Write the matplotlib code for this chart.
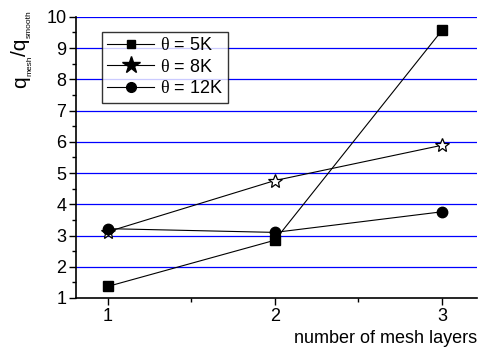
import matplotlib
matplotlib.use("Agg")
import matplotlib.pyplot as plt
from matplotlib.lines import Line2D
from matplotlib.ticker import MultipleLocator
from matplotlib.transforms import IdentityTransform

plt.rcParams['font.family'] = ['Liberation Sans', 'DejaVu Sans']
plt.rcParams['mathtext.fontset'] = 'custom'
plt.rcParams['mathtext.rm'] = 'Liberation Serif'
plt.rcParams['mathtext.sf'] = 'Liberation Sans'

layers = [1, 2, 3]
q_5K = [1.37, 2.85, 9.57]
q_8K = [3.12, 4.76, 5.89]
q_12K = [3.22, 3.10, 3.76]
labels = [r'$\mathrm{θ}$ = 5K', r'$\mathrm{θ}$ = 8K', r'$\mathrm{θ}$ = 12K']
ylabel_parts = [('q', False), ('mesh', True), ('/q', False), ('smooth', True)]

fig = plt.figure(figsize=(4.81, 3.51), dpi=100)
ax = fig.add_axes([0.158, 0.151, 0.834, 0.801])

for yv in range(2, 11):
    ax.axhline(yv, color='#0000ff', lw=0.9, zorder=0)

ax.plot(layers, q_5K, color='black', lw=0.8, marker='s', ms=6.5, mfc='black', mec='black', zorder=3)
ax.plot(layers, q_8K, color='black', lw=0.8, marker='*', ms=10, mfc='white', mec='black', mew=0.9, zorder=3)
ax.plot(layers, q_12K, color='black', lw=0.8, marker='o', ms=7.5, mfc='black', mec='black', zorder=4)

ax.set_xlim(0.81, 3.21)
ax.set_ylim(1, 10)
ax.xaxis.set_major_locator(MultipleLocator(1))
ax.xaxis.set_minor_locator(MultipleLocator(0.5))
ax.yaxis.set_major_locator(MultipleLocator(1))
ax.yaxis.set_minor_locator(MultipleLocator(0.5))
ax.tick_params(axis='both', which='major', direction='out', length=5, width=1, labelsize=13, pad=2)
ax.tick_params(axis='both', which='minor', direction='out', length=3, width=1)
ax.spines['top'].set_visible(False)
ax.spines['right'].set_visible(False)
ax.spines['left'].set_linewidth(1.2)
ax.spines['bottom'].set_linewidth(1.2)

ax.set_xlabel('number of mesh layers', fontsize=13)
ax.xaxis.set_label_coords(1.0, -0.115)
ax.xaxis.label.set_ha('right')

# y label built from pieces (large q, small subscripts), reading bottom-to-top
renderer = fig.canvas.get_renderer()
ypos = 351 - 88
xbase = 26
for txt, sub in ylabel_parts:
    t = fig.text(xbase + (5 if sub else 0), ypos, txt, rotation=90, rotation_mode='anchor',
                 ha='left', va='baseline', fontsize=6 if sub else 15,
                 transform=IdentityTransform())
    ext = t.get_window_extent(renderer)
    ypos += ext.height

handles = [
    Line2D([], [], color='black', lw=0.8, marker='s', ms=6),
    Line2D([], [], color='black', lw=0.8, marker='*', ms=13),
    Line2D([], [], color='black', lw=0.8, marker='o', ms=7),
]
leg = ax.legend(handles, labels, loc='upper left', bbox_to_anchor=(0.065, 0.947),
                fontsize=13, frameon=True, fancybox=False, edgecolor='black',
                handlelength=2.6, handletextpad=0.3, borderpad=0.3, labelspacing=0.25,
                borderaxespad=0)
leg.get_frame().set_linewidth(1.0)

fig.savefig('out.png', dpi=100)
